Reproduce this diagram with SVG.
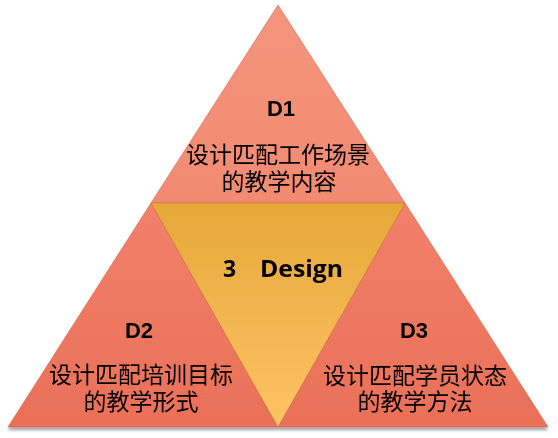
<svg xmlns="http://www.w3.org/2000/svg" width="558" height="438" viewBox="0 0 558 438">
<style>
.tri{stroke:#c0583f;stroke-width:0.8;stroke-opacity:0.6}
.h{font-family:"Liberation Sans",Arial,sans-serif;font-weight:bold;font-size:22px;fill:#000;text-anchor:middle}
.c{font-family:"Noto Sans CJK SC","Noto Sans",sans-serif;font-size:23px;fill:#000;text-anchor:middle}
.d{font-family:"Open Sans","Noto Sans",sans-serif;font-weight:bold;font-size:23px;fill:#000}
</style>
<defs>
<linearGradient id="gTop" x1="0" y1="0" x2="0" y2="1">
<stop offset="0" stop-color="#f4957d"/>
<stop offset="1" stop-color="#f28a72"/>
</linearGradient>
<linearGradient id="gSide" x1="0" y1="0" x2="0" y2="1">
<stop offset="0" stop-color="#f2806a"/>
<stop offset="1" stop-color="#ea7058"/>
</linearGradient>
<linearGradient id="gIn" x1="0" y1="0" x2="0" y2="1">
<stop offset="0" stop-color="#e6a838"/>
<stop offset="1" stop-color="#ffc265"/>
</linearGradient>
<filter id="sh" x="-5%" y="-5%" width="110%" height="115%">
<feGaussianBlur in="SourceAlpha" stdDeviation="1.5"/>
<feOffset dx="0" dy="3" result="b"/>
<feComponentTransfer><feFuncA type="linear" slope="0.35"/></feComponentTransfer>
<feMerge><feMergeNode/><feMergeNode in="SourceGraphic"/></feMerge>
</filter>
</defs>
<rect width="558" height="438" fill="#fff"/>
<g filter="url(#sh)">
<g id="D1">
<polygon class="tri" points="278,5 151,203 405,203" fill="url(#gTop)"/>
<text class="h" x="281" y="116">D1</text>
<text class="c"><tspan x="278" y="163">设计匹配工作场景</tspan><tspan x="279" y="190">的教学内容</tspan></text>
</g>
<g id="D2">
<polygon class="tri" points="151,203 8,427 278,427" fill="url(#gSide)"/>
<text class="h" x="139" y="338">D2</text>
<text class="c"><tspan x="141" y="383">设计匹配培训目标</tspan><tspan x="141" y="410">的教学形式</tspan></text>
</g>
<g id="D3">
<polygon class="tri" points="405,203 278,427 548,427" fill="url(#gSide)"/>
<text class="h" x="414" y="338">D3</text>
<text class="c"><tspan x="415" y="384">设计匹配学员状态</tspan><tspan x="415" y="410">的教学方法</tspan></text>
</g>
<g id="center">
<polygon class="tri" points="151,203 405,203 278,427" fill="url(#gIn)" style="stroke:#b87a2a"/>
<text class="d" x="223" y="277">3</text>
<text class="d" x="260" y="277" textLength="83" lengthAdjust="spacingAndGlyphs">Design</text>
</g>
</g>
<g id="connectors"/>
</svg>
